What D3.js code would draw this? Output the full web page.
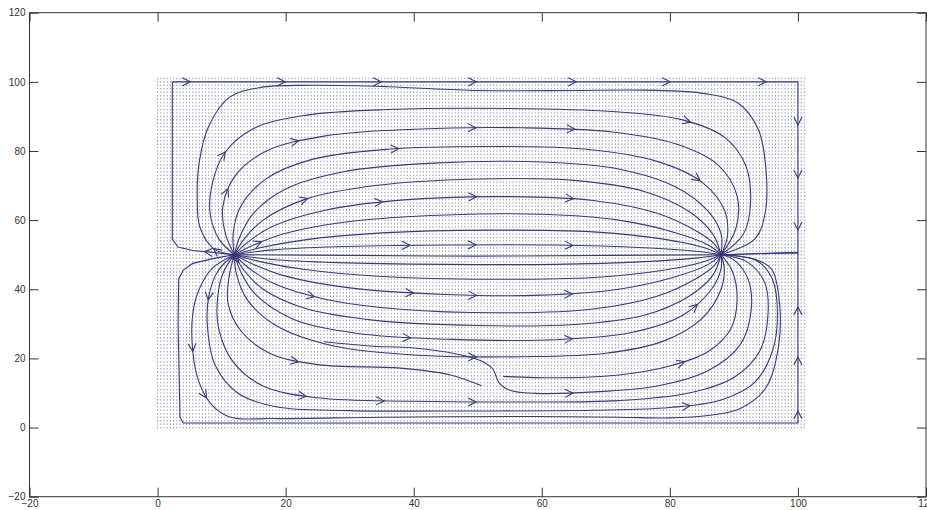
<!DOCTYPE html>
<html>
<head>
<meta charset="utf-8">
<script src="https://cdn.jsdelivr.net/npm/d3@7"></script>
<style>
  body { margin: 0; background: #fff; }
  svg { display: block; }
</style>
</head>
<body>
<svg id="chart" width="927" height="510"></svg>
<script>
// axis ticks
const xTicks = [-20, 0, 20, 40, 60, 80, 100, 120];
const yTicks = [-20, 0, 20, 40, 60, 80, 100, 120];

// quiver grid (sample positions of the velocity field)
const gridXStep = 0.5, gridYStep = 1, gridMin = 0, gridMax = 101;

// streamlines above the source-sink axis (source at 12,50 -> sink at 88,50)
const upperLines = [
  [[12,50],[18,51.4],[28,52.3],[45,52.8],[62,52.8],[76,52],[84,51],[88,50]],
  [[12,50],[16,52],[23,54.3],[35,56.3],[52,57.1],[68,56.6],[79,54.5],[85,52.2],[88,50]],
  [[12,50],[15,52.8],[20,56.2],[30,59.6],[45,61.5],[60,61.7],[72,60],[81,56.3],[86,52.8],[88,50]],
  [[12,50],[14,53.5],[18,58.2],[26,62.8],[38,65.8],[55,66.8],[68,65.7],[78,62],[84,57],[87,53],[88,50]],
  [[12,50],[13.5,54.5],[16.5,60],[23,66],[34,70],[50,71.9],[65,71.5],[76,68.3],[83,62.5],[86.7,56],[88,50]],
  [[12,50],[12.8,55],[15,62],[20,69],[29,74],[43,76.5],[60,76.8],[72,74.8],[81,69.5],[86,62.5],[88,56],[88,50]],
  [[12,50],[11.8,56],[13,64],[17,72],[24,77.5],[36,80.5],[52,81.3],[67,80.5],[78,77],[85,71],[88.5,63],[89,55.5],[88,50]],
  [[12,50],[10.6,56],[10.2,64],[12.2,73],[17,80],[26,84.3],[40,86.3],[57,86.7],[71,85.5],[81,82],[87.5,76],[90.5,67],[90.3,57.5],[88,50]],
  [[12,50],[9.6,54.5],[8.2,62],[8.6,71],[10.5,79.5],[15,86.5],[23,90.3],[36,92],[55,92.3],[71,91.4],[82,89],[88.5,84],[91.8,76],[92.6,65],[91.5,56],[88,50]],
  [[12,50],[8.8,51.7],[6.6,58],[6.2,66],[6.5,76.7],[8,87.2],[11.2,95.5],[16.1,98.4],[24,99],[36,98.6],[50,97.5],[65,97.5],[76,97.6],[85.5,96.6],[90.7,93.8],[93.8,86.3],[94.9,76.7],[94.9,62.2],[93.3,54.6],[88,50]]
];

// the straight-ish line between source and sink
const centerLine = [[12,50],[30,49.8],[50,49.6],[70,49.8],[88,50]];

// streamlines below the axis (some start or stop part way, as in the plot)
const lowerLines = [
  [[12,50],[18,48.6],[28,47.7],[45,47.2],[62,47.2],[76,48],[84,49],[88,50]],
  [[12,50],[16,48],[23,45.7],[35,43.7],[52,42.9],[68,43.4],[79,45.5],[85,47.8],[88,50]],
  [[12,50],[15,47.2],[20,43.8],[30,40.4],[45,38.5],[60,38.3],[72,40],[81,43.7],[86,47.2],[88,50]],
  [[12,50],[14,46.5],[18,41.8],[26,37.2],[38,34.2],[55,33.2],[68,34.3],[78,38],[84,43],[87,47],[88,50]],
  [[12,50],[13.5,45.5],[16.5,40],[23,34.5],[34,31],[50,29.5],[65,29.8],[76,32.5],[83,38],[86.7,44],[88,50]],
  [[12,50],[13,45],[15.3,38.5],[21,31.5],[31,27.3],[46,25.5],[62,25.4],[74,27.5],[82,32.5],[86.5,40],[88,46],[88,50]],
  [[12,50],[12.3,44.5],[14,37],[18.5,29.5],[27,23.8],[40,21],[57,20.5],[70,21.5],[79,25],[85,31.5],[88,40],[88.5,46],[88,50]],
  [[26,24.8],[33,23.6],[40,23],[46.7,21.3],[50.5,19.3],[52.4,16.8],[53.3,13],[55,10.8],[59,9.9],[69,10.4],[78,12],[86,16.5],[91,24],[92.7,34],[92.2,43],[90,48.5],[88,50]],
  [[12,50],[11.2,44],[11,36],[13,28],[17.5,21.5],[25,18.2],[37.9,17.2],[45.6,15.3],[50.6,12.1]],
  [[54,14.8],[63,14.4],[72,15.2],[80,17.8],[86,22],[89.5,28.5],[90.5,37],[89.8,45],[88,50]],
  [[12,50],[10.3,45],[9.4,38],[9.5,29],[11.8,19],[16.5,12],[25,8.6],[40,7.6],[58,7.4],[72,7.8],[83,10],[90,14.5],[94,22],[95.3,32],[94.8,42],[92,48],[88,50]],
  [[12,50],[9.5,45.5],[8,38],[7.8,29],[9,18],[12.5,10],[18.5,6],[30,4.9],[50,4.8],[68,5],[80,5.8],[88,8],[93.2,13],[96,22],[96.8,33],[96,43],[93.5,48.3],[88,50]],
  [[12,50],[8.5,46],[6.5,40],[5.5,33],[5.5,22],[6.5,13],[8.5,6.5],[11.4,3],[18,2.6],[35,3],[55,3.2],[72,3],[80,2.8],[86,3.5],[91,5.5],[95,11.5],[97,23.9],[97,38.3],[95.9,45.8],[93.3,48.7],[88,50]]
];

// the two lines that run along the box walls
const wallLines = [
  [[12,50],[9,50.6],[5.5,51.2],[3.2,52.2],[2.3,54.5],[2.3,100],[100,100],[100,50.6],[88,50]],
  [[12,50],[9,49],[5.5,47.5],[4,45.5],[3.3,43],[3.2,30],[3.5,3],[4,1.3],[100,1.3],[100,50.6],[88,50]]
];

// where the arrowheads sit (data units)
const arrowSpots = [
  [5.1,100],[19.9,100],[35,100],[49.8,100],[65.4,100],[80,100],[95.1,100],
  [100,87.4],[100,72.1],[100,57],[100,34.8],[100,20.3],[100,4.9],
  [10,80.5],[11.1,69.1],[22.3,80.7],[37.6,83.1],[49.8,84.6],[65.2,86.5],[83.1,87],[84.7,71.5],
  [35,67.7],[23.6,65.2],[49.8,66.3],[64.9,66.7],[49.8,53.6],[64.9,53.6],[39.4,53.2],
  [49.8,38.2],[64.9,37.7],[39.9,37.7],[24.3,36.7],[84.7,34.8],[39.4,24.6],[22.3,22.2],
  [64.9,23.7],[49.8,21.3],[82.1,20.3],[23.3,9.2],[35.3,7.7],[49.8,7.7],[64.9,10.1],[83.1,7.7],
  [7.2,37.2],[6.7,22.2],[8.5,9.7],
  [7.4,51.1],[8.6,51.3],[12.6,47.7],[16,54.7]
];

const svg = d3.select('#chart');
const lineColor = '#3a3a74';

const x = d3.scaleLinear().domain([-20, 120]).range([29.5, 926]);
const y = d3.scaleLinear().domain([-20, 120]).range([496.7, 12.7]);

// quiver dots
const gx = d3.range(gridMin, gridMax + 1e-6, gridXStep);
const gy = d3.range(gridMin, gridMax + 1e-6, gridYStep);
let dots = '';
gy.forEach(v => {
  const py = y(v) - 0.7;
  gx.forEach(u => { dots += `M${x(u).toFixed(2)},${py.toFixed(2)}v1.5`; });
});
svg.append('path')
  .attr('d', dots)
  .attr('fill', 'none')
  .attr('stroke', '#9a9ab4')
  .attr('stroke-width', 1);

// streamlines
const smooth = d3.line().x(d => x(d[0])).y(d => y(d[1])).curve(d3.curveCatmullRom.alpha(0.5));
const straight = d3.line().x(d => x(d[0])).y(d => y(d[1]));

const g = svg.append('g').attr('fill', 'none').attr('stroke', lineColor).attr('stroke-width', 1.1);

const paths = [];
upperLines.concat([centerLine], lowerLines).forEach(l => {
  paths.push(g.append('path').attr('d', smooth(l)).node());
});
wallLines.forEach(l => {
  paths.push(g.append('path').attr('d', straight(l)).attr('stroke', '#34348a').node());
});

// sample the drawn lines so arrows can sit on them
const samples = paths.map(p => {
  const len = p.getTotalLength();
  const pts = [];
  for (let s = 0; s <= len; s += 1) {
    const q = p.getPointAtLength(s);
    pts.push([q.x, q.y]);
  }
  return pts;
});

arrowSpots.forEach(a => {
  const px = x(a[0]), py = y(a[1]);
  let best = null, bd = Infinity;
  samples.forEach(pts => {
    pts.forEach((q, i) => {
      const d = (q[0] - px) ** 2 + (q[1] - py) ** 2;
      if (d < bd) { bd = d; best = { pts, i }; }
    });
  });
  const { pts, i } = best;
  const p0 = pts[Math.max(0, i - 2)], p1 = pts[Math.min(pts.length - 1, i + 2)];
  const ang = Math.atan2(p1[1] - p0[1], p1[0] - p0[0]);
  const tip = pts[i];
  const len = 9, spread = 0.47;
  const l1 = [tip[0] - len * Math.cos(ang - spread), tip[1] - len * Math.sin(ang - spread)];
  const l2 = [tip[0] - len * Math.cos(ang + spread), tip[1] - len * Math.sin(ang + spread)];
  g.append('path').attr('d', `M${l1[0]},${l1[1]}L${tip[0]},${tip[1]}L${l2[0]},${l2[1]}`);
});

// axes box and ticks
const axisColor = '#333';
svg.append('rect')
  .attr('x', x(-20)).attr('y', y(120))
  .attr('width', x(120) - x(-20)).attr('height', y(-20) - y(120))
  .attr('fill', 'none').attr('stroke', axisColor).attr('stroke-width', 1);

const styleAxis = sel => {
  sel.select('.domain').remove();
  sel.selectAll('line').attr('stroke', axisColor);
  sel.selectAll('text').attr('fill', '#333').style('font', '10px "Liberation Sans", Arial, sans-serif');
};

svg.append('g').attr('transform', `translate(0,${y(-20)})`)
  .call(d3.axisBottom(x).tickValues(xTicks).tickSizeInner(-9).tickSizeOuter(0).tickPadding(3))
  .call(styleAxis);
svg.append('g').attr('transform', `translate(0,${y(120)})`)
  .call(d3.axisTop(x).tickValues(xTicks).tickSizeInner(-9).tickSizeOuter(0).tickFormat(''))
  .call(styleAxis);
svg.append('g').attr('transform', `translate(${x(-20)},0)`)
  .call(d3.axisLeft(y).tickValues(yTicks).tickSizeInner(-9).tickSizeOuter(0).tickPadding(4))
  .call(styleAxis);
svg.append('g').attr('transform', `translate(${x(120)},0)`)
  .call(d3.axisRight(y).tickValues(yTicks).tickSizeInner(-9).tickSizeOuter(0).tickFormat(''))
  .call(styleAxis);
</script>
</body>
</html>
